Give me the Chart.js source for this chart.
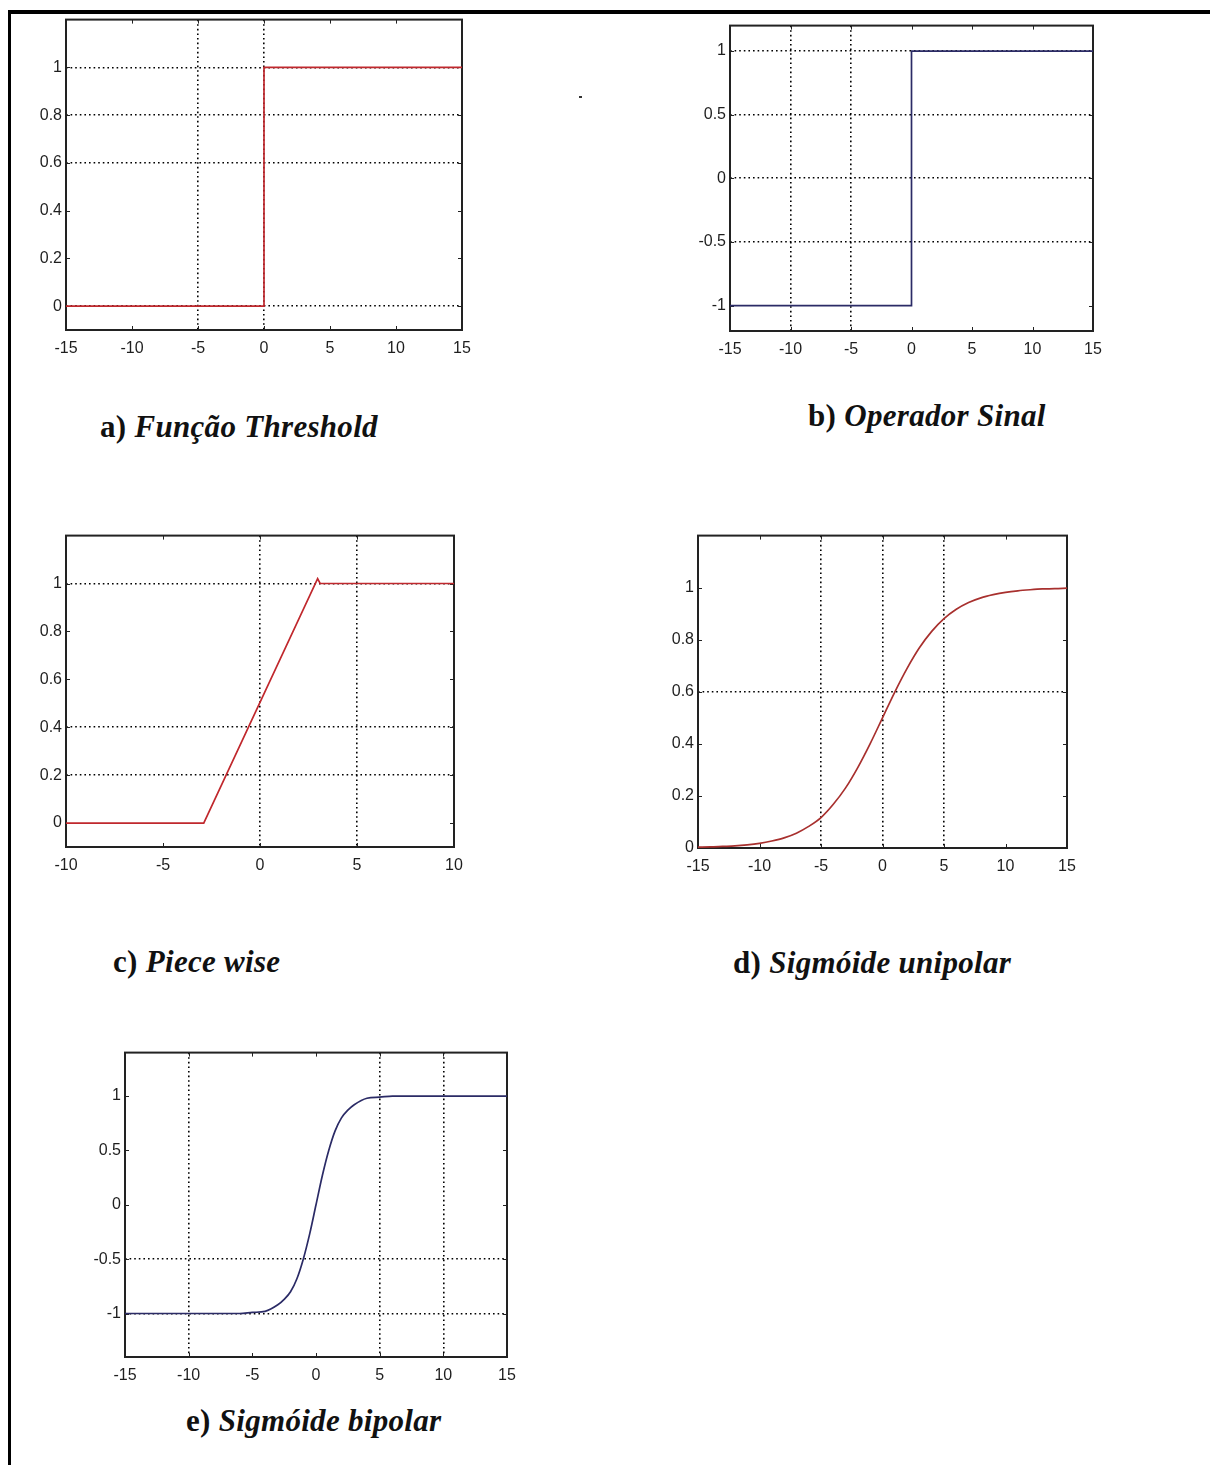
<!DOCTYPE html>
<html>
<head>
<meta charset="utf-8">
<title>Funções de ativação</title>
<script src="https://cdn.jsdelivr.net/npm/chart.js@4.4.1/dist/chart.umd.min.js"></script>
<style>
  body { margin: 0; width: 1210px; height: 1465px; background: #fff; position: relative; overflow: hidden; }
  .frame-top  { position: absolute; left: 8px; top: 10px; width: 1202px; height: 4px; background: #000; }
  .frame-left { position: absolute; left: 8px; top: 10px; width: 3px; height: 1455px; background: #000; }
  .speck { position: absolute; left: 579px; top: 96px; width: 3px; height: 2px; background: #333; }
  canvas { position: absolute; }
  .cap {
    position: absolute; white-space: nowrap;
    font-family: "Liberation Serif", "DejaVu Serif", serif;
    font-size: 31px; line-height: 31px; font-weight: bold; color: #111;
    letter-spacing: 0.3px;
  }
  .cap i { font-style: italic; }
</style>
</head>
<body>
<div class="frame-top"></div>
<div class="frame-left"></div>
<div class="speck"></div>

<canvas id="chart-a"></canvas>
<canvas id="chart-b"></canvas>
<canvas id="chart-c"></canvas>
<canvas id="chart-d"></canvas>
<canvas id="chart-e"></canvas>

<div class="cap" style="left:100px; top:411px;">a) <i>Função Threshold</i></div>
<div class="cap" style="left:808px; top:400px;">b) <i>Operador Sinal</i></div>
<div class="cap" style="left:113px; top:946px;">c) <i>Piece wise</i></div>
<div class="cap" style="left:733px; top:947px;">d) <i>Sigmóide unipolar</i></div>
<div class="cap" style="left:186px; top:1405px;">e) <i>Sigmóide bipolar</i></div>

<script>
// ===== データ =====
// a) Função Threshold
const thrX = [-15, 0, 0, 15];
const thrY = [0, 0, 1, 1];
const thrTicksX = [-15, -10, -5, 0, 5, 10, 15];
const thrTicksY = [0, 0.2, 0.4, 0.6, 0.8, 1];
const thrGridX = [-5, 0];
const thrGridY = [0, 0.6, 0.8, 1];

// b) Operador Sinal
const sinalX = [-15, 0, 0, 15];
const sinalY = [-1, -1, 1, 1];
const sinalTicksX = [-15, -10, -5, 0, 5, 10, 15];
const sinalTicksY = [-1, -0.5, 0, 0.5, 1];
const sinalGridX = [-10, -5];
const sinalGridY = [-0.5, 0, 0.5, 1];

// c) Piece wise
const pieceX = [-10, -2.9, 2.97, 3.1, 10];
const pieceY = [0, 0, 1.02, 1, 1];
const pieceTicksX = [-10, -5, 0, 5, 10];
const pieceTicksY = [0, 0.2, 0.4, 0.6, 0.8, 1];
const pieceGridX = [0, 5];
const pieceGridY = [0.2, 0.4, 1];

// d) Sigmóide unipolar
const uniX = [-15, -14, -13, -12, -11, -10, -9, -8, -7, -6, -5, -4, -3, -2, -1, 0,
              1, 2, 3, 4, 5, 6, 7, 8, 9, 10, 11, 12, 13, 14, 15];
const uniY = [0.003, 0.004, 0.006, 0.008, 0.012, 0.018, 0.027, 0.039, 0.057, 0.083, 0.117,
              0.168, 0.231, 0.31, 0.401, 0.5, 0.599, 0.69, 0.769, 0.832, 0.881, 0.917,
              0.943, 0.961, 0.973, 0.982, 0.988, 0.992, 0.995, 0.996, 0.998];
const uniTicksX = [-15, -10, -5, 0, 5, 10, 15];
const uniTicksY = [0, 0.2, 0.4, 0.6, 0.8, 1];
const uniGridX = [-5, 0, 5];
const uniGridY = [0.6];

// e) Sigmóide bipolar
const biX = [-15, -6, -5, -4, -3, -2.5, -2, -1.5, -1, -0.5, 0,
             0.5, 1, 1.5, 2, 2.5, 3, 4, 5, 6, 15];
const biY = [-1, -1, -0.99, -0.98, -0.92, -0.87, -0.8, -0.68, -0.5, -0.27, 0,
             0.27, 0.5, 0.68, 0.8, 0.87, 0.92, 0.98, 0.99, 1, 1];
const biTicksX = [-15, -10, -5, 0, 5, 10, 15];
const biTicksY = [-1, -0.5, 0, 0.5, 1];
const biGridX = [-10, 5, 10];
const biGridY = [-1, -0.5];

// ===== 色など =====
const RED  = '#c0282d';
const RED2 = '#a8302e';
const NAVY = '#2b2b66';

const PAD_L = 60, PAD_T = 12, PAD_R = 25, PAD_B = 38;

// 枠と内向きの目盛り（MATLAB 風）
const framePlugin = {
  id: 'frame',
  beforeDatasetsDraw(chart) {
    const { ctx, chartArea: a, scales: { x, y } } = chart;
    ctx.save();
    ctx.strokeStyle = '#222';
    ctx.lineWidth = 1;
    ctx.beginPath();
    x.ticks.forEach(t => {
      const px = Math.round(x.getPixelForValue(t.value)) + 0.5;
      ctx.moveTo(px, a.bottom); ctx.lineTo(px, a.bottom - 4);
      ctx.moveTo(px, a.top);    ctx.lineTo(px, a.top + 4);
    });
    y.ticks.forEach(t => {
      const py = Math.round(y.getPixelForValue(t.value)) + 0.5;
      ctx.moveTo(a.left, py);  ctx.lineTo(a.left + 4, py);
      ctx.moveTo(a.right, py); ctx.lineTo(a.right - 4, py);
    });
    ctx.stroke();
    ctx.lineWidth = 2;
    ctx.strokeRect(a.left, a.top, a.right - a.left, a.bottom - a.top);
    ctx.restore();
  }
};

function fmt(v) { return String(v); }

function makePanel(id, box, p) {
  const canvas = document.getElementById(id);
  const w = box.r - box.l + PAD_L + PAD_R;
  const h = box.b - box.t + PAD_T + PAD_B;
  canvas.width = w;
  canvas.height = h;
  canvas.style.left = (box.l - PAD_L) + 'px';
  canvas.style.top  = (box.t - PAD_T) + 'px';
  canvas.style.width = w + 'px';
  canvas.style.height = h + 'px';

  // 表示するグリッド線だけ色を付ける
  const gridColor = list => c => (c.tick && list.includes(c.tick.value)) ? '#000' : 'rgba(0,0,0,0)';

  new Chart(canvas.getContext('2d'), {
    type: 'line',
    data: {
      datasets: [{
        data: p.xs.map((v, i) => ({ x: v, y: p.ys[i] })),
        borderColor: p.color,
        borderWidth: 1.7,
        pointRadius: 0,
        fill: false,
        tension: p.smooth ? 0.4 : 0,
        cubicInterpolationMode: p.smooth ? 'monotone' : 'default',
      }],
    },
    options: {
      responsive: false,
      animation: false,
      events: [],
      layout: { padding: { left: 0, top: PAD_T, right: PAD_R, bottom: 0 } },
      plugins: { legend: { display: false }, tooltip: { enabled: false } },
      scales: {
        x: {
          type: 'linear',
          min: p.xMin, max: p.xMax,
          afterBuildTicks: s => { s.ticks = p.ticksX.map(v => ({ value: v })); },
          afterFit: s => { s.height = PAD_B; },
          grid: { color: gridColor(p.gridX), lineWidth: 1.6, drawTicks: false },
          border: { display: false, dash: [1.6, 3] },
          ticks: {
            padding: 9, color: '#1e1e1e', maxRotation: 0, autoSkip: false,
            font: { family: '"Liberation Sans", Arial, sans-serif', size: 16 },
            callback: fmt,
          },
        },
        y: {
          min: p.yMin, max: p.yMax,
          afterBuildTicks: s => { s.ticks = p.ticksY.map(v => ({ value: v })); },
          afterFit: s => { s.width = PAD_L; },
          grid: { color: gridColor(p.gridY), lineWidth: 1.6, drawTicks: false },
          border: { display: false, dash: [1.6, 3] },
          ticks: {
            padding: 4, color: '#1e1e1e', autoSkip: false,
            font: { family: '"Liberation Sans", Arial, sans-serif', size: 16 },
            callback: fmt,
          },
        },
      },
    },
    plugins: [framePlugin],
  });
}

// ===== 描画 =====
makePanel('chart-a', { l: 66, t: 18, r: 462, b: 330 }, {
  xs: thrX, ys: thrY, color: RED,
  xMin: -15, xMax: 15, yMin: -0.1, yMax: 1.2,
  ticksX: thrTicksX, ticksY: thrTicksY, gridX: thrGridX, gridY: thrGridY,
});

makePanel('chart-b', { l: 730, t: 24, r: 1093, b: 331 }, {
  xs: sinalX, ys: sinalY, color: NAVY,
  xMin: -15, xMax: 15, yMin: -1.2, yMax: 1.2,
  ticksX: sinalTicksX, ticksY: sinalTicksY, gridX: sinalGridX, gridY: sinalGridY,
});

makePanel('chart-c', { l: 66, t: 534, r: 454, b: 847 }, {
  xs: pieceX, ys: pieceY, color: RED,
  xMin: -10, xMax: 10, yMin: -0.1, yMax: 1.2,
  ticksX: pieceTicksX, ticksY: pieceTicksY, gridX: pieceGridX, gridY: pieceGridY,
});

makePanel('chart-d', { l: 698, t: 534, r: 1067, b: 848 }, {
  xs: uniX, ys: uniY, color: RED2, smooth: true,
  xMin: -15, xMax: 15, yMin: 0, yMax: 1.2,
  ticksX: uniTicksX, ticksY: uniTicksY, gridX: uniGridX, gridY: uniGridY,
});

makePanel('chart-e', { l: 125, t: 1051, r: 507, b: 1357 }, {
  xs: biX, ys: biY, color: NAVY, smooth: true,
  xMin: -15, xMax: 15, yMin: -1.4, yMax: 1.4,
  ticksX: biTicksX, ticksY: biTicksY, gridX: biGridX, gridY: biGridY,
});
</script>
</body>
</html>
